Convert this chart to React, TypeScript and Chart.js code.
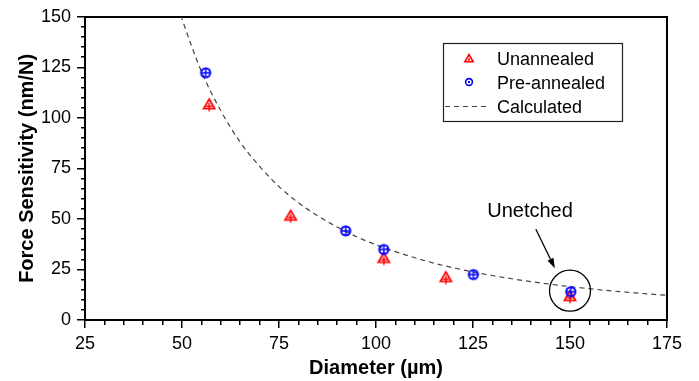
import React, { useEffect, useRef } from "react";
import { Chart, registerables } from "chart.js";

Chart.register(...registerables);

// ---- data ----
const unannealedD = [57, 78, 102, 118, 150];
const unannealedF = [106.9, 51.8, 30.9, 21.4, 12.0];

const preannealedD = [56.1, 92.2, 102, 125.1, 150.2];
const preannealedF = [122.3, 44.1, 34.9, 22.5, 14.0];

const calcD = [49, 50, 55, 60, 65, 70, 75, 80, 85, 90, 95, 100, 105, 110, 115, 120, 125, 130, 135, 140, 145, 150, 155, 160, 165, 170, 175];
const calcF = [155, 149, 123, 103.5, 88, 76, 66, 58, 51.5, 46, 41.2, 37.2, 33.8, 30.8, 28.1, 25.8, 23.8, 22, 20.4, 19, 17.7, 16.5, 15.5, 14.5, 13.7, 12.9, 12.2];

const xTickValues = [25, 50, 75, 100, 125, 150, 175];
const yTickValues = [0, 25, 50, 75, 100, 125, 150];
const X_MIN = 25, X_MAX = 175, Y_MIN = 0, Y_MAX = 150;
const MINOR_STEP = 5;

const seriesNames = ["Unannealed", "Pre-annealed", "Calculated"];
const xTitle = "Diameter (\u00b5m)";
const yTitle = "Force Sensitivity (nm/N)";
const noteText = "Unetched";
const noteTextAt = [139.7, 51.2];
const noteArrowFrom = [141.2, 44.9];
const noteArrowTo = [146.1, 25.6];
const noteCircleAt = [150, 14.5];

const FONT = "'Liberation Sans', Arial, Helvetica, sans-serif";
const RED = "#ff0000";
const BLUE = "#0000ff";

function makeTriangle(): HTMLCanvasElement {
  const c = document.createElement("canvas");
  c.width = 16;
  c.height = 18;
  const g = c.getContext("2d")!;
  g.strokeStyle = RED;
  g.lineWidth = 1.8;
  g.beginPath();
  g.moveTo(8, 4.2);
  g.lineTo(13.5, 13.6);
  g.lineTo(2.5, 13.6);
  g.closePath();
  g.stroke();
  g.lineWidth = 1.4;
  g.beginPath();
  g.moveTo(5.3, 11.2);
  g.lineTo(10.7, 11.2);
  g.moveTo(8, 8);
  g.lineTo(8, 16.4);
  g.stroke();
  return c;
}

function makeCircle(): HTMLCanvasElement {
  const c = document.createElement("canvas");
  c.width = 14;
  c.height = 14;
  const g = c.getContext("2d")!;
  g.strokeStyle = BLUE;
  g.lineWidth = 2;
  g.beginPath();
  g.arc(7, 7, 4.6, 0, Math.PI * 2);
  g.stroke();
  g.lineWidth = 1.4;
  g.beginPath();
  g.moveTo(3, 7);
  g.lineTo(11, 7);
  g.moveTo(7, 3);
  g.lineTo(7, 11.5);
  g.stroke();
  return c;
}

function minorValues(min: number, max: number): number[] {
  const out: number[] = [];
  const n = Math.round((max - min) / MINOR_STEP);
  for (let i = 0; i <= n; i++) out.push(min + i * MINOR_STEP);
  return out;
}

const decorPlugin = {
  id: "decor",
  afterDraw(chart: any) {
    const ctx = chart.ctx as CanvasRenderingContext2D;
    const xs = chart.scales.x;
    const ys = chart.scales.y;
    ctx.save();
    ctx.setLineDash([]);
    // annotation: circle
    ctx.lineWidth = 1.3;
    ctx.strokeStyle = "#000";
    const cx = xs.getPixelForValue(noteCircleAt[0]);
    const cy = ys.getPixelForValue(noteCircleAt[1]);
    ctx.beginPath();
    ctx.arc(cx, cy, 20.5, 0, Math.PI * 2);
    ctx.stroke();
    // arrow
    const ax0 = xs.getPixelForValue(noteArrowFrom[0]);
    const ay0 = ys.getPixelForValue(noteArrowFrom[1]);
    const ax1 = xs.getPixelForValue(noteArrowTo[0]);
    const ay1 = ys.getPixelForValue(noteArrowTo[1]);
    const ang = Math.atan2(ay1 - ay0, ax1 - ax0);
    const headLen = 10;
    const headW = 3.3;
    const bx = ax1 - headLen * Math.cos(ang);
    const by = ay1 - headLen * Math.sin(ang);
    ctx.beginPath();
    ctx.moveTo(ax0, ay0);
    ctx.lineTo(bx, by);
    ctx.stroke();
    ctx.fillStyle = "#000";
    ctx.beginPath();
    ctx.moveTo(ax1, ay1);
    ctx.lineTo(bx + headW * Math.sin(ang), by - headW * Math.cos(ang));
    ctx.lineTo(bx - headW * Math.sin(ang), by + headW * Math.cos(ang));
    ctx.closePath();
    ctx.fill();
    // text
    ctx.font = `20px ${FONT}`;
    ctx.textAlign = "center";
    ctx.textBaseline = "alphabetic";
    ctx.fillText(noteText, xs.getPixelForValue(noteTextAt[0]), ys.getPixelForValue(noteTextAt[1]));

    // legend
    const lx = 443, ly = 43, lw = 179, lh = 78;
    ctx.lineWidth = 1.2;
    ctx.strokeStyle = "#222";
    ctx.strokeRect(lx + 0.5, ly + 0.5, lw, lh);
    ctx.font = `18px ${FONT}`;
    ctx.textAlign = "left";
    const baselines = [65, 88.5, 113];
    const mx = 469;
    const t0 = baselines[0] - 6.5;
    ctx.strokeStyle = RED;
    ctx.fillStyle = RED;
    ctx.lineWidth = 1.6;
    ctx.beginPath();
    ctx.moveTo(mx, t0 - 4);
    ctx.lineTo(mx + 4.2, t0 + 3.3);
    ctx.lineTo(mx - 4.2, t0 + 3.3);
    ctx.closePath();
    ctx.stroke();
    ctx.fillRect(mx - 1, t0, 2, 2);
    const c0 = baselines[1] - 6.5;
    ctx.strokeStyle = BLUE;
    ctx.fillStyle = BLUE;
    ctx.beginPath();
    ctx.arc(mx, c0, 3.4, 0, Math.PI * 2);
    ctx.stroke();
    ctx.fillRect(mx - 1, c0 - 1, 2, 2);
    const d0 = baselines[2] - 6.5;
    ctx.strokeStyle = "#444";
    ctx.lineWidth = 1.2;
    ctx.setLineDash([5, 4]);
    ctx.beginPath();
    ctx.moveTo(445, d0);
    ctx.lineTo(489, d0);
    ctx.stroke();
    ctx.setLineDash([]);
    ctx.fillStyle = "#000";
    seriesNames.forEach((n, i) => ctx.fillText(n, 497, baselines[i]));
    ctx.restore();
  },
};

export default function App() {
  const ref = useRef<HTMLCanvasElement | null>(null);
  useEffect(() => {
    if (!ref.current) return;
    const tri = makeTriangle();
    const circ = makeCircle();
    const isMajorX = (v: number) => xTickValues.indexOf(v) >= 0;
    const isMajorY = (v: number) => yTickValues.indexOf(v) >= 0;
    const chart = new Chart(ref.current, {
      type: "scatter",
      data: {
        datasets: [
          {
            label: seriesNames[1],
            data: preannealedD.map((d, i) => ({ x: d, y: preannealedF[i] })),
            pointStyle: circ as any,
            pointRadius: 6,
            showLine: false,
          },
          {
            label: seriesNames[0],
            data: unannealedD.map((d, i) => ({ x: d, y: unannealedF[i] })),
            pointStyle: tri as any,
            pointRadius: 6,
            showLine: false,
          },
          {
            label: seriesNames[2],
            data: calcD.map((d, i) => ({ x: d, y: calcF[i] })),
            showLine: true,
            pointRadius: 0,
            borderColor: "#444",
            borderWidth: 1.2,
            borderDash: [5, 4],
            cubicInterpolationMode: "monotone",
            fill: false,
          },
        ],
      },
      options: {
        animation: false,
        responsive: false,
        maintainAspectRatio: false,
        layout: { padding: { left: 0, top: 16, right: 32, bottom: 0 } },
        plugins: { legend: { display: false }, tooltip: { enabled: false } },
        scales: {
          x: {
            type: "linear",
            position: "bottom",
            min: X_MIN,
            max: X_MAX,
            afterFit: (s: any) => {
              s.height = 61;
            },
            afterBuildTicks: (s: any) => {
              s.ticks = minorValues(X_MIN, X_MAX).map((v) => ({ value: v }));
            },
            grid: {
              display: true,
              drawOnChartArea: false,
              drawTicks: true,
              tickLength: 8,
              color: "#000",
              lineWidth: 1.5,
              tickBorderDash: (c: any) => (c.tick && isMajorX(c.tick.value) ? [] : [4, 30]),
            },
            border: { display: true, color: "#000", width: 2 },
            ticks: {
              autoSkip: false,
              maxRotation: 0,
              padding: 5,
              color: "#000",
              font: { family: FONT, size: 18 },
              callback: (v: any) => (isMajorX(Number(v)) ? String(v) : ""),
            },
            title: {
              display: true,
              text: xTitle,
              color: "#000",
              font: { family: FONT, size: 20, weight: "bold" },
              padding: { top: 0, bottom: 1 },
            },
          },
          y: {
            type: "linear",
            position: "left",
            min: Y_MIN,
            max: Y_MAX,
            afterFit: (s: any) => {
              s.width = 85;
            },
            afterBuildTicks: (s: any) => {
              s.ticks = minorValues(Y_MIN, Y_MAX).map((v) => ({ value: v }));
            },
            grid: {
              display: true,
              drawOnChartArea: false,
              drawTicks: true,
              tickLength: 8,
              color: "#000",
              lineWidth: 1.5,
              tickBorderDash: (c: any) => (c.tick && isMajorY(c.tick.value) ? [] : [0, 4, 4, 30]),
            },
            border: { display: true, color: "#000", width: 2 },
            ticks: {
              autoSkip: false,
              padding: 6,
              color: "#000",
              font: { family: FONT, size: 18 },
              callback: (v: any) => (isMajorY(Number(v)) ? String(v) : ""),
            },
            title: {
              display: true,
              text: yTitle,
              color: "#000",
              font: { family: FONT, size: 20, weight: "bold" },
              padding: { top: 15, bottom: 0 },
            },
          },
          x2: {
            type: "linear",
            axis: "x",
            position: "top",
            min: X_MIN,
            max: X_MAX,
            afterFit: (s: any) => {
              s.height = 0;
            },
            grid: { display: false, drawTicks: false },
            border: { display: true, color: "#000", width: 2 },
            ticks: { display: false },
          },
          y2: {
            type: "linear",
            axis: "y",
            position: "right",
            min: Y_MIN,
            max: Y_MAX,
            afterFit: (s: any) => {
              s.width = 0;
            },
            grid: { display: false, drawTicks: false },
            border: { display: true, color: "#000", width: 2 },
            ticks: { display: false },
          },
        } as any,
      },
      plugins: [decorPlugin],
    });
    return () => chart.destroy();
  }, []);
  return (
    <div style={{ position: "fixed", left: 0, top: 0, width: 699, height: 381, background: "#fff" }}>
      <canvas ref={ref} width={699} height={381} />
    </div>
  );
}
